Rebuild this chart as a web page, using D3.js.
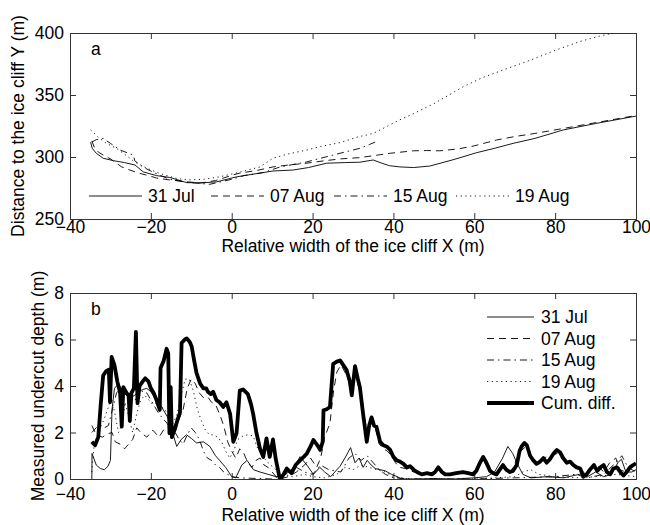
<!DOCTYPE html>
<html>
<head>
<meta charset="utf-8">
<script src="https://cdn.jsdelivr.net/npm/d3@7"></script>
<style>
  body { margin: 0; background: #fff; }
  svg text { font-family: "Liberation Sans", Arial, Helvetica, sans-serif; fill: #000; }
</style>
</head>
<body>
<div id="container"></div>
<script>
/* CONSTANTS AND GLOBALS */
const width = 650,
      height = 525,
      fontSize = "17.5px";

// panel frames (a = cliff position, b = undercut depth), with label offsets
const frameA = {left: 70, right: 636, top: 33, bottom: 219, tickPad: 2, xlab: 252, ylab: 24};
const frameB = {left: 70, right: 636, top: 293, bottom: 479, tickPad: 8.5, xlab: 521, ylab: 44};

const xTicks = [-40, -20, 0, 20, 40, 60, 80, 100];
const yTicksA = [250, 300, 350, 400];
const yTicksB = [0, 2, 4, 6, 8];

const dateLabels = ["31 Jul", "07 Aug", "15 Aug", "19 Aug"];
const cumLabel = "Cum. diff.";

// line styles per survey date
const dashes = ["none", "7,5", "7,4,1.5,4", "1.2,3.5"];

/* DATA : panel a, [x, Y] in metres */
const cliffJul31 = [[-34.9,312],[-34.5,307],[-33.5,303],[-31.8,299],[-29.2,297],[-26.5,295.5],[-23.9,293.5],[-21.9,288],[-18.6,285],
  [-15.3,283.5],[-11.1,279.3],[-7,279.2],[-3.7,280],[1.2,284],[5,286],[10.2,288.7],[15.2,289.5],[19,291.5],[23.5,295],
  [28,295.5],[31.7,295.8],[35,297.6],[36.7,295.5],[39,293],[41.6,292],[45,291.5],[49,292.7],[55,298],[60.6,303.5],
  [65,307],[69.6,311],[75,315],[82,321.8],[90,327],[100,333]];
const cliffAug07 = [[-34.6,313],[-34,308],[-33,304],[-31.5,301],[-30,298.5],[-28.5,295],[-27.2,292],[-25.2,289.5],[-23,287],
  [-20,284.5],[-18.6,283],[-15.3,281.5],[-11,280],[-7.8,279],[-4,281],[0.3,285.5],[2,287],[6,289],[10.2,292],
  [14,293.5],[18.5,295],[23,297],[27,298.5],[31.7,299.5],[36,301.5],[39.2,303],[44.9,305],[48.2,305.2],[51.5,305],
  [56,306.5],[60,309],[65.5,313.7],[70,316.5],[75,319],[82,323],[88,326.5],[94,330],[100,333.5]];
const cliffAug15 = [[-34.6,312],[-33.5,314],[-31.8,315],[-30,311],[-27.6,305.6],[-25.5,303],[-24.3,301.6],[-24,297],
  [-22,292],[-19,287],[-15.3,282],[-11,279.5],[-5.4,278],[0,282],[3,285],[7.9,287.5],[12,292],[18.5,296],
  [22,299],[26.8,303],[31.7,307],[34,310],[36.2,313]];
const cliffAug19 = [[-34.9,321.8],[-33,316],[-31,311],[-28.5,307],[-26,301],[-24,296],[-21,291],[-18,287],[-14,283],
  [-11,281.5],[-7,282],[-3,284],[1,287],[4,289.5],[7,292],[10.2,299],[14,302.5],[18.5,305.6],[22,308.5],[26.8,311.6],
  [31,316],[35,319],[38,324],[41.6,330],[45,335],[50,343],[57.3,356.7],[62,364],[67,370],[73.8,378],[80,386],
  [86,393],[91,397.5],[94.3,400]];

/* DATA : panel b, [x, depth] in metres */
const depthJul31 = [[-34.6,0],[-34.55,1.1],[-33.5,0.6],[-32.5,0.45],[-31.5,0.4],[-30.6,0.55],[-30,0.8],[-29.6,3.0],[-29,3.9],[-28,4.1],
  [-27,3.8],[-26,3.6],[-25,3.5],[-24,3.6],[-23,3.75],[-22,3.85],[-21,3.9],[-20,3.75],[-19,3.5],[-18,3.3],[-17,3.0],
  [-16,2.7],[-15,2.3],[-14.3,1.8],[-13.6,1.4],[-12.5,1.7],[-11.2,1.9],[-10,1.75],[-8.7,1.55],[-7,1.6],[-5.4,1.4],
  [-4,1.0],[-3,0.8],[-1.5,0.5],[0,0.1],[1,0.05],[2.5,0.6],[3.8,0.8],[5.4,0.4],[7,0.3],[9,0.2],[11,0.1],[13,0.15],
  [15.5,0.5],[16.9,0.96],[18.6,0.6],[20.2,0.2],[21.8,0.5],[23,0.3],[24.5,0.1],[25.5,0.3],[26.8,0.55],[28,0.9],
  [29.4,1.35],[30.5,0.7],[31.5,0.9],[32.5,0.5],[33.5,0.8],[34.5,0.6],[35.5,0.45],[36.7,0.4],[38,0.35],[39.5,0.2],
  [41,0.1],[42,0],[45,0],[50,0.02],[55,0],[60,0.05],[63,0.1],[65,0.3],[67,0.9],[68.3,1.4],[69.5,1.1],[70.5,0.7],
  [72,0.2],[74,0.05],[78,0.1],[82,0.05],[86,0.2],[88,0.1],[90,0.3],[92,0.1],[94,0.2],[95.5,0.7],[96.4,0.85],
  [97.5,0.3],[99,0.3],[100,0.4]];
const depthAug07 = [[-34.6,2.3],[-33.5,1.9],[-32,1.8],[-30.5,1.95],[-29.6,2.0],[-28.8,1.6],[-27.6,1.5],[-26.5,1.3],
  [-25.5,1.5],[-24.5,1.7],[-23.5,2.2],[-22.5,2.0],[-21,1.8],[-19.5,2.1],[-18,1.8],[-16.5,2.2],[-15,2.3],[-14,2.0],
  [-13,2.6],[-12,3.0],[-11,3.9],[-10,4.3],[-9,4.1],[-8,3.7],[-7,3.5],[-6,3.55],[-5,3.3],[-4,3.2],[-3,2.8],[-2,2.3],
  [-1,1.6],[0,1.2],[1,0.9],[2,1.3],[3,1.1],[4,0.7],[5,0.5],[6,0.8],[7,0.9],[8,0.6],[9,0.5],[10,0.3],[11,0.1],
  [12,0],[14,0.1],[16,0.3],[18,0.6],[19.5,0.9],[21,0.5],[22,0.9],[23,1.8],[24.3,2.4],[25.2,3.8],[26,4.6],[27,4.9],
  [28,4.6],[29,4.2],[29.8,3.6],[30.5,4.5],[31.5,3.9],[32.5,3.0],[33.5,2.0],[34.5,2.5],[35.5,2.2],[36.5,1.5],
  [37.5,1.3],[38.5,1.2],[39.5,1.0],[40.5,0.7],[41.5,0.5],[43,0.45],[45,0.3],[47,0.25],[49,0.2],[51,0.45],[53,0.2],
  [56,0.25],[59,0.2],[61,0.5],[62.2,0.85],[63.5,0.4],[65,0.2],[67,0.5],[69,0.3],[71.5,1.2],[72.8,1.4],[74,0.9],
  [75.5,0.6],[77,0.9],[79,1.0],[80.5,1.1],[82,0.8],[84,0.6],[86,0.5],[87.5,0.2],[89,0.5],[90.5,0.6],[92,0.3],
  [93.5,0.7],[95,0.9],[96,0.4],[97.5,0.3],[99,0.5],[100,0.65]];
const depthAug15 = [[-34.6,2.0],[-33,2.3],[-31.5,2.2],[-30.5,2.3],[-29.5,3.0],[-28.5,3.7],[-27.5,3.9],[-26,3.6],[-25,3.3],
  [-24,3.4],[-23,3.5],[-22,3.8],[-21,3.7],[-20,3.4],[-19,3.1],[-18,2.8],[-17,2.6],[-16,2.4],[-15,2.1],[-14,2.0],
  [-13,1.7],[-12,1.5],[-11,1.9],[-10,2.2],[-9,2.0],[-8,1.7],[-7,1.2],[-6,0.9],[-5,0.8],[-4,0.6],[-3,0.5],[-2,0.3],
  [-1,0.2],[0,0.1],[2,0.05],[10,0],[14,0.3],[16,0.5],[18,0.3],[20,0.2],[22,0.6],[24,0.4],[27,0.3],[29,0.9],
  [30.5,1.1],[32,0.8],[33.5,1.0],[35,0.7],[36.5,0.4],[38,0.2],[40,0.05],[45,0],[60,0],[70,0.05],[80,0.1],[85,0.2],
  [88,0.05],[92,0.2],[95,0.7],[96.5,1.0],[98,0.5],[100,0.3]];
const depthAug19 = [[-34.6,0.3],[-34,1.5],[-33.4,1.8],[-32.5,2.2],[-31.5,2.6],[-30.5,3.1],[-29.8,3.5],[-29,2.9],[-28,2.0],
  [-27,2.4],[-26.4,3.3],[-25.5,2.7],[-24.5,2.0],[-23.5,2.8],[-22.5,3.4],[-21.5,3.6],[-20.5,3.4],[-19.5,3.2],
  [-18.5,3.3],[-17.5,3.1],[-16.5,3.0],[-15.5,2.6],[-14.5,2.4],[-13.5,2.8],[-12.5,3.6],[-11.5,4.3],[-10.5,4.3],
  [-9.5,3.8],[-8.5,3.0],[-7.5,2.5],[-6.5,2.1],[-5.5,1.9],[-4.5,1.9],[-3.5,1.8],[-2.5,1.6],[-1.5,1.2],[-0.5,0.9],
  [0.5,1.2],[1.5,1.7],[2.8,1.85],[4,1.9],[5.3,1.85],[6.2,1.4],[7.5,1.0],[9,0.7],[10.3,0.5],[11.5,0.3],[13,0.2],
  [15,0.1],[18,0.2],[20,0.1],[23,0.05],[26,0.2],[28,0.5],[30,0.4],[32,0.6],[34,0.5],[36,0.4],[38,0.3],[40,0.1],
  [44,0],[60,0],[65,0.05],[70,0.1],[72,0.3],[74,0.4],[76,0.2],[80,0.1],[85,0.05],[90,0.1],[95,0.2],[100,0.1]];
const depthCum = [[-34.6,1.6],[-33.8,1.45],[-33,1.8],[-32.4,3.2],[-31.8,4.45],[-31,4.65],[-30.4,4.7],[-30.1,3.3],
  [-29.7,5.25],[-29,4.9],[-28.3,4.2],[-27.6,3.7],[-27.2,2.25],[-26.8,3.95],[-26,3.7],[-25.5,3.6],[-25.2,2.5],
  [-24.8,3.7],[-24.2,3.9],[-23.7,6.33],[-23.3,3.26],[-22.8,4.0],[-22,4.2],[-21.4,4.33],[-20.6,4.2],[-20,3.9],
  [-19.3,3.7],[-18.6,3.4],[-17.8,2.97],[-17.6,4.77],[-16.8,5.1],[-16.1,5.6],[-15.7,5.4],[-15.4,1.97],[-15.1,3.95],
  [-14.8,1.8],[-14,2.2],[-13.3,2.6],[-12.8,2.85],[-12.4,5.85],[-11.6,6.0],[-11.1,6.05],[-10.4,5.9],[-9.9,5.7],
  [-9.3,5.1],[-8.7,4.55],[-7.8,4.1],[-7,3.9],[-6.3,3.9],[-5.9,3.75],[-5.2,3.65],[-4.6,3.75],[-3.8,3.4],[-3,3.3],
  [-2.1,3.1],[-1.3,3.3],[-0.4,2.8],[0.4,1.6],[1.2,1.97],[2,3.8],[2.8,3.85],[4,3.65],[4.8,3.2],[5.3,2.8],[6.1,2.0],
  [7,1.3],[7.8,0.95],[8.6,1.75],[9.4,0.95],[10.2,1.7],[10.9,0.85],[11.9,0.0],[12.5,0.1],[13.6,0.45],[14.8,0.25],
  [15.8,0.6],[16.9,0.8],[17.8,0.95],[18.6,1.1],[19.5,1.4],[20.2,1.68],[21.2,1.45],[21.9,1.25],[22.5,1.6],[22.7,2.95],
  [23.5,3.0],[24.3,3.1],[25.1,4.95],[26,5.05],[26.8,5.1],[27.6,4.9],[28.4,4.7],[29.2,4.2],[29.7,3.6],[30.5,4.85],
  [31.2,4.3],[31.7,3.95],[32.5,2.8],[33.4,1.6],[34.0,2.3],[34.6,2.65],[35.2,2.3],[35.8,2.25],[36.7,1.6],[37.5,1.45],
  [38.3,1.4],[39.2,1.25],[40,0.95],[40.8,0.8],[41.6,0.75],[42.5,0.65],[43.3,0.5],[44.1,0.55],[45,0.4],[45.8,0.3],
  [47,0.2],[48.3,0.25],[49.5,0.2],[50.3,0.3],[51.1,0.5],[52,0.3],[52.8,0.2],[54,0.2],[55.5,0.25],[57.2,0.3],
  [58.5,0.25],[59.7,0.2],[60.5,0.35],[61.4,0.7],[62.2,0.95],[63,0.7],[63.9,0.35],[64.7,0.25],[65.5,0.2],[66.3,0.4],
  [67.1,0.6],[67.9,0.4],[68.8,0.3],[69.6,0.35],[70.5,0.6],[71.2,1.2],[71.7,1.4],[72.4,1.55],[73,1.45],[73.8,1.0],
  [74.6,0.8],[75.4,0.65],[76.3,0.75],[77.1,0.9],[77.9,0.7],[78.7,0.85],[79.6,1.1],[80.4,1.25],[81.2,1.15],[82,0.9],
  [82.9,0.7],[83.7,0.75],[84.5,0.6],[85.3,0.5],[86.2,0.45],[87,0.1],[87.8,0.2],[88.6,0.4],[89.6,0.6],[90.4,0.35],
  [91.2,0.5],[92,0.6],[92.8,0.3],[93.6,0.2],[94.4,0.45],[95.3,0.5],[96.1,0.3],[96.9,0.15],[97.7,0.3],[98.5,0.5],
  [99.3,0.6],[100,0.67]];

const svg = d3.select("#container")
  .append("svg")
  .attr("width", width)
  .attr("height", height);

/* one framed panel with inward ticks on every side */
function panel(f, yDomain, yTicks, name, yTitle, id) {
  const x = d3.scaleLinear().domain([-40, 100]).range([f.left, f.right]);
  const y = d3.scaleLinear().domain(yDomain).range([f.bottom, f.top]);

  svg.append("clipPath").attr("id", id)
    .append("rect")
    .attr("x", f.left).attr("y", f.top)
    .attr("width", f.right - f.left).attr("height", f.bottom - f.top);

  const g = svg.append("g");
  const style = sel => {
    sel.select(".domain").remove();
    sel.selectAll(".tick line").attr("stroke", "#333");
    sel.selectAll(".tick text")
      .style("font-size", fontSize)
      .attr("font-family", "Liberation Sans, Arial, sans-serif")
      .attr("fill", "#000");
  };

  g.append("g").attr("transform", `translate(0,${f.bottom})`)
    .call(d3.axisBottom(x).tickValues(xTicks).tickSize(-6).tickPadding(f.tickPad))
    .call(style);
  g.append("g").attr("transform", `translate(0,${f.top})`)
    .call(d3.axisTop(x).tickValues(xTicks).tickSize(-6).tickFormat(""))
    .call(style);
  g.append("g").attr("transform", `translate(${f.left},0)`)
    .call(d3.axisLeft(y).tickValues(yTicks).tickSize(-6).tickPadding(6))
    .call(style);
  g.append("g").attr("transform", `translate(${f.right},0)`)
    .call(d3.axisRight(y).tickValues(yTicks).tickSize(-6).tickFormat(""))
    .call(style);

  g.append("rect")
    .attr("x", f.left + 0.5).attr("y", f.top + 0.5)
    .attr("width", f.right - f.left).attr("height", f.bottom - f.top)
    .attr("fill", "none").attr("stroke", "#333");

  svg.append("text")
    .attr("x", f.left + 21).attr("y", f.top + 22)
    .style("font-size", fontSize)
    .text(name);

  svg.append("text")
    .attr("x", (f.left + f.right) / 2).attr("y", f.xlab)
    .attr("text-anchor", "middle")
    .style("font-size", fontSize)
    .text("Relative width of the ice cliff X (m)");

  svg.append("text")
    .attr("transform", `translate(${f.ylab},${(f.top + f.bottom) / 2}) rotate(-90)`)
    .attr("text-anchor", "middle")
    .style("font-size", fontSize)
    .text(yTitle);

  return {x, y};
}

const a = panel(frameA, [250, 400], yTicksA, "a", "Distance to the ice cliff Y (m)", "clipA");
const b = panel(frameB, [0, 8], yTicksB, "b", "Measured undercut depth (m)", "clipB");

/* panel a lines */
const lineA = d3.line().x(d => a.x(d[0])).y(d => a.y(d[1]));
svg.append("g").attr("clip-path", "url(#clipA)")
  .selectAll("path")
  .data([cliffJul31, cliffAug07, cliffAug15, cliffAug19])
  .join("path")
  .attr("d", lineA)
  .attr("fill", "none")
  .attr("stroke", "#000")
  .attr("stroke-width", 0.9)
  .attr("stroke-dasharray", (d, i) => dashes[i]);

/* panel b lines, thick cumulative line on top */
const lineB = d3.line().x(d => b.x(d[0])).y(d => b.y(d[1]));
const gB = svg.append("g").attr("clip-path", "url(#clipB)");
gB.selectAll(".date-line")
  .data([depthJul31, depthAug07, depthAug15, depthAug19])
  .join("path")
  .attr("class", "date-line")
  .attr("d", lineB)
  .attr("fill", "none")
  .attr("stroke", "#000")
  .attr("stroke-width", 0.9)
  .attr("stroke-dasharray", (d, i) => dashes[i]);
gB.append("path")
  .attr("d", lineB(depthCum))
  .attr("fill", "none")
  .attr("stroke", "#000")
  .attr("stroke-width", 3.8)
  .attr("stroke-linejoin", "round");

/* legend a : one row inside the frame */
const legA = svg.append("g");
const legAx = [89, 211, 334, 456];
dateLabels.forEach((lab, i) => {
  legA.append("line")
    .attr("x1", legAx[i]).attr("x2", legAx[i] + 53)
    .attr("y1", 196).attr("y2", 196)
    .attr("stroke", "#000").attr("stroke-width", 0.9)
    .attr("stroke-dasharray", dashes[i]);
  legA.append("text")
    .attr("x", legAx[i] + 59).attr("y", 202)
    .style("font-size", fontSize)
    .text(lab);
});

/* legend b : column at top right */
const legB = svg.append("g");
[...dateLabels, cumLabel].forEach((lab, i) => {
  const yy = 317 + i * 21.5;
  legB.append("line")
    .attr("x1", 487).attr("x2", 534)
    .attr("y1", yy).attr("y2", yy)
    .attr("stroke", "#000")
    .attr("stroke-width", i === 4 ? 3.8 : 0.9)
    .attr("stroke-dasharray", i === 4 ? "none" : dashes[i]);
  legB.append("text")
    .attr("x", 541).attr("y", yy + 6)
    .style("font-size", fontSize)
    .text(lab);
});
</script>
</body>
</html>
